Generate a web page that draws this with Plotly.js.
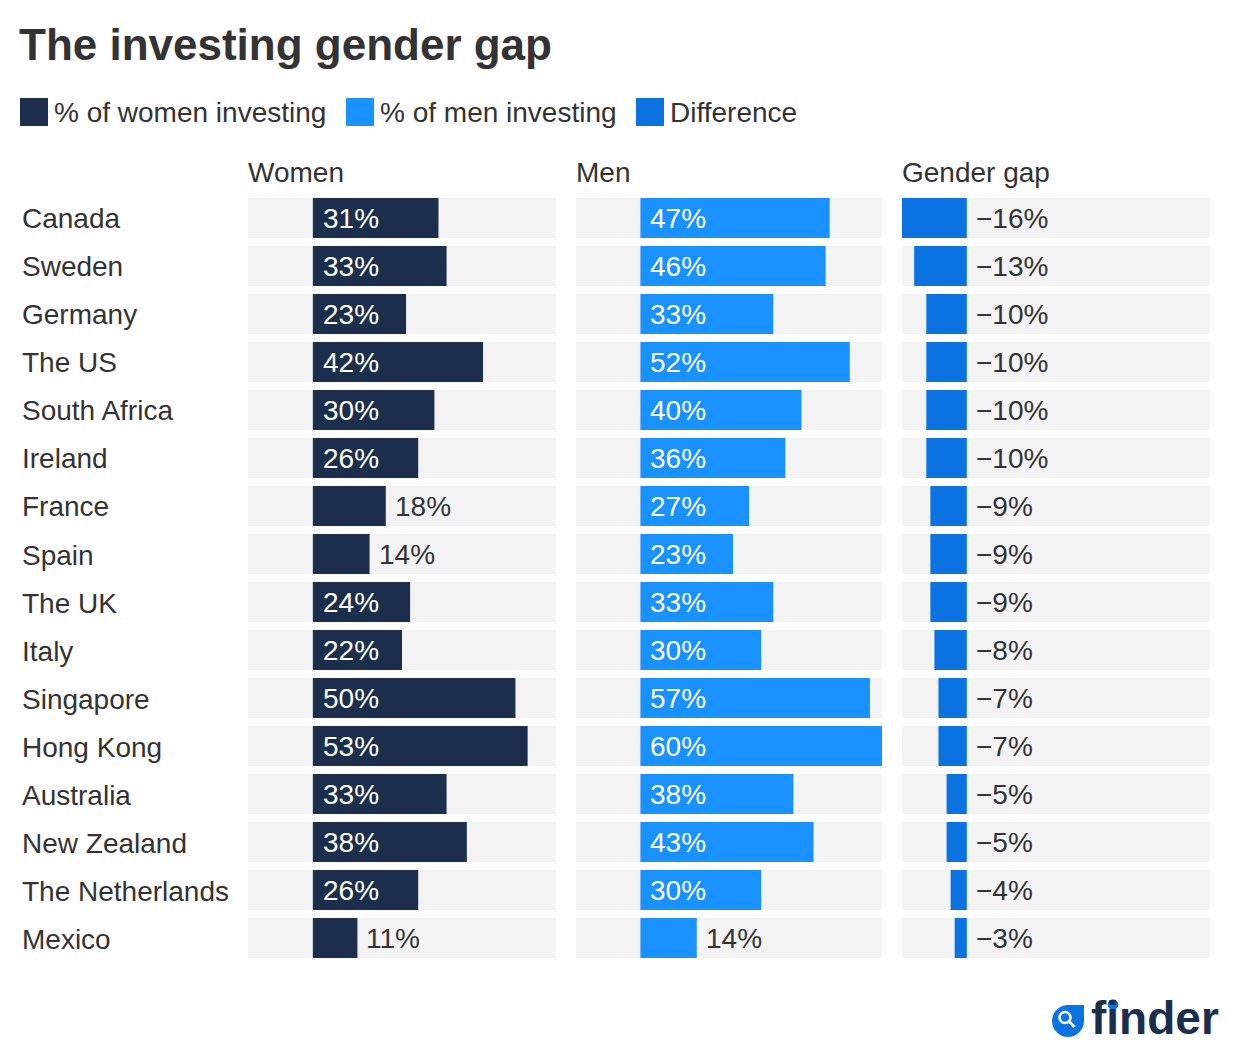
<!DOCTYPE html>
<html>
<head>
<meta charset="utf-8">
<script src="https://cdn.plot.ly/plotly-3.0.1.min.js"></script>
<style>html,body{margin:0;padding:0;background:#fff;}#chart{width:1240px;height:1064px;}</style>
</head>
<body>
<div id="chart"></div>
<script>
// ---- Data ----
const categories = ['Canada','Sweden','Germany','The US','South Africa','Ireland','France','Spain','The UK','Italy','Singapore','Hong Kong','Australia','New Zealand','The Netherlands','Mexico'];
const women = [31,33,23,42,30,26,18,14,24,22,50,53,33,38,26,11];
const men   = [47,46,33,52,40,36,27,23,33,30,57,60,38,43,30,14];
const gap   = [-16,-13,-10,-10,-10,-10,-9,-9,-9,-8,-7,-7,-5,-5,-4,-3];
const seriesNames = ['% of women investing','% of men investing','Difference'];
const columnHeaders = ['Women','Men','Gender gap'];
const chartTitle = 'The investing gender gap';

// ---- Styling / layout config ----
const W = 1240, H = 1064;
const AXIS_MIN = -16, AXIS_MAX = 60;
const colors = ['#1b2f4d', '#1991ff', '#0a72e1'];
const bgGray = '#f3f3f3';
const textColor = '#333333';
const FONT = '"Liberation Sans", Arial, Helvetica, sans-serif';
const FS = 28;
const INSIDE_MIN = 20;
const px = x => x / W;
const py = y => 1 - y / H;

const domains = [[px(248), px(556)], [px(576), px(882)], [px(902), px(1210)]];
const yDomain = [py(962), py(194)];
const series = [women, men, gap];
const axisIds = ['', '2', '3'];

const fmt = v => (v < 0 ? '\u2212' + Math.abs(v) : String(v)) + '%';

const traces = [];
const annotations = [];
series.forEach((vals, i) => {
  const xa = 'x' + axisIds[i];
  traces.push({
    type: 'bar', orientation: 'h', y: categories,
    x: categories.map(() => AXIS_MAX - AXIS_MIN), base: AXIS_MIN,
    xaxis: xa, yaxis: 'y', marker: {color: bgGray}, hoverinfo: 'skip', showlegend: false
  });
  traces.push({
    type: 'bar', orientation: 'h', y: categories, x: vals,
    xaxis: xa, yaxis: 'y', marker: {color: colors[i]}, name: seriesNames[i], hoverinfo: 'skip', showlegend: false
  });
  vals.forEach((v, k) => {
    let inside = v >= INSIDE_MIN;
    let x = 0, shift = 8, col = '#ffffff';
    if (v < 0) { x = 0; shift = 7; col = textColor; }
    else if (!inside) { x = v; shift = 7; col = textColor; }
    annotations.push({
      xref: xa, yref: 'y', x: x, y: categories[k], xanchor: 'left', yanchor: 'middle',
      xshift: shift, yshift: -0.5, text: fmt(v), showarrow: false, font: {family: FONT, size: FS, color: col}
    });
  });
  // column header
  annotations.push({
    xref: xa + ' domain', yref: 'paper', x: 0, y: py(173), xanchor: 'left', yanchor: 'middle',
    xshift: -2, yshift: 0.5, text: columnHeaders[i], showarrow: false, font: {family: FONT, size: FS, color: textColor}
  });
});

// row labels
categories.forEach(c => {
  annotations.push({
    xref: 'paper', yref: 'y', x: px(20), y: c, xanchor: 'left', yanchor: 'middle', yshift: -1,
    text: c, showarrow: false, font: {family: FONT, size: FS, color: textColor}
  });
});

// legend (custom)
const shapes = [];
const legendX = [20, 346, 636];
seriesNames.forEach((n, i) => {
  shapes.push({type: 'rect', xref: 'paper', yref: 'paper', x0: px(legendX[i]), x1: px(legendX[i] + 28),
    y0: py(126), y1: py(98), fillcolor: colors[i], line: {width: 0}});
  annotations.push({xref: 'paper', yref: 'paper', x: px(legendX[i] + 32), y: py(112), xanchor: 'left', yanchor: 'middle',
    text: n, showarrow: false, font: {family: FONT, size: FS, color: textColor}});
});

// finder logo
const K = 0.5523;
function pathFrom(cmds) {
  return cmds.map(c => c[0] + ' ' + c.slice(1).map((v, j) => (j % 2 === 0 ? px(v) : py(v)).toFixed(5)).join(',')).join(' ');
}
const cx = 1068, cy = 1021, r = 16;
const logoPath = pathFrom([
  ['M', cx, cy - r],
  ['L', cx + r, cy - r],
  ['L', cx + r, cy],
  ['C', cx + r, cy + r * K, cx + r * K, cy + r, cx, cy + r],
  ['C', cx - r * K, cy + r, cx - r, cy + r * K, cx - r, cy],
  ['C', cx - r, cy - r * K, cx - r * K, cy - r, cx, cy - r]
]) + ' Z';
shapes.push({type: 'path', xref: 'paper', yref: 'paper', path: logoPath, fillcolor: colors[2], line: {width: 0}});
shapes.push({type: 'circle', xref: 'paper', yref: 'paper', x0: px(1059.5), x1: px(1070.5), y0: py(1023), y1: py(1012),
  fillcolor: 'rgba(0,0,0,0)', line: {color: '#ffffff', width: 2.5}});
shapes.push({type: 'line', xref: 'paper', yref: 'paper', x0: px(1069), y0: py(1021.5), x1: px(1074.5), y1: py(1027),
  line: {color: '#ffffff', width: 3}});
annotations.push({xref: 'paper', yref: 'paper', x: px(1089), y: py(1018), xanchor: 'left', yanchor: 'middle',
  text: '<b>finder</b>', showarrow: false,
  font: {family: FONT, size: 46, color: colors[0]}});
shapes.push({type: 'circle', xref: 'paper', yref: 'paper', x0: px(1107.7), x1: px(1118.3), y0: py(1009.8), y1: py(999.2),
  fillcolor: colors[2], line: {width: 0}});

const layout = {
  width: W, height: H,
  margin: {l: 0, r: 0, t: 0, b: 0},
  paper_bgcolor: '#ffffff', plot_bgcolor: 'rgba(0,0,0,0)',
  title: {text: '<b>' + chartTitle + '</b>', xref: 'container', yref: 'container', x: px(19), y: py(45),
    xanchor: 'left', yanchor: 'middle', font: {family: FONT, size: 44, color: textColor}},
  barmode: 'overlay', bargap: 8 / 48,
  showlegend: false,
  xaxis:  {domain: domains[0], range: [AXIS_MIN, AXIS_MAX], visible: false, fixedrange: true},
  xaxis2: {domain: domains[1], range: [AXIS_MIN, AXIS_MAX], visible: false, fixedrange: true},
  xaxis3: {domain: domains[2], range: [AXIS_MIN, AXIS_MAX], visible: false, fixedrange: true},
  yaxis: {domain: yDomain, type: 'category', categoryorder: 'array', categoryarray: categories,
    autorange: 'reversed', visible: false, fixedrange: true},
  annotations: annotations,
  shapes: shapes,
  font: {family: FONT, color: textColor}
};

Plotly.newPlot('chart', traces, layout, {staticPlot: true, displayModeBar: false});
</script>
</body>
</html>
